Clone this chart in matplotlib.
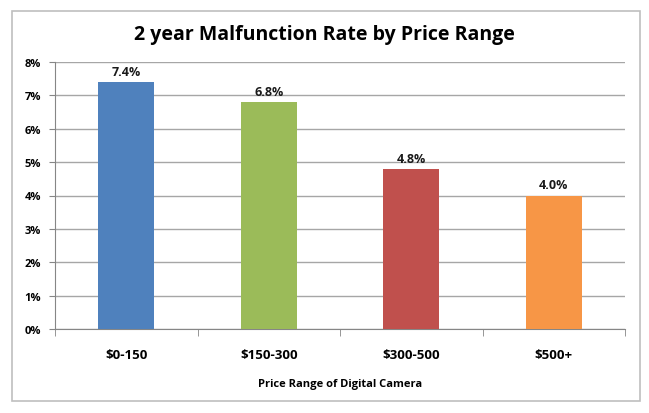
import numpy as np
import matplotlib
matplotlib.use('Agg')
from matplotlib import pyplot as plt
from matplotlib.patches import Rectangle

categories = ['$0-150', '$150-300', '$300-500', '$500+']
rates = [7.4, 6.8, 4.8, 4.0]
bar_colors = ['#4F81BD', '#9BBB59', '#C0504D', '#F79646']
y_ticks = [0, 1, 2, 3, 4, 5, 6, 7, 8]


def plotter():
    plt.rcParams['font.family'] = ['Open Sans', 'DejaVu Sans']
    plt.rcParams['font.weight'] = 'bold'

    fig = plt.figure(figsize=(6.49, 4.14), dpi=100)
    # outer chart border
    fig.patches.append(Rectangle((12 / 649, 12 / 414), 628 / 649, 390 / 414,
                                 transform=fig.transFigure, fill=False,
                                 edgecolor='#BFBFBF', linewidth=1.2))

    ax = fig.add_axes([55 / 649, 1 - 330 / 414, 570 / 649, 267 / 414])
    x = np.arange(len(categories))
    ax.bar(x, rates, width=0.39, color=bar_colors, zorder=3)
    for xi, v in zip(x, rates):
        ax.text(xi, v + 0.12, f'{v:.1f}%', ha='center', va='bottom',
                fontsize=9, fontweight='bold', color='#1a1a1a')

    ax.set_xlim(-0.5, len(categories) - 0.5)
    ax.set_ylim(0, 8)
    ax.set_yticks(y_ticks)
    ax.set_yticklabels([f'{t}%' for t in y_ticks], fontsize=8, fontweight='bold')
    ax.set_xticks(x)
    ax.set_xticklabels(categories, fontsize=9.5, fontweight='bold')
    ax.tick_params(axis='x', length=0, pad=14)
    ax.tick_params(axis='y', length=4, color='#868686', pad=6)
    # category boundary ticks
    ax.set_xticks(np.arange(-0.5, len(categories)), minor=True)
    ax.tick_params(axis='x', which='minor', length=5, color='#868686')

    ax.grid(axis='y', color='#A6A6A6', linewidth=1, zorder=0)
    for s in ['top', 'right']:
        ax.spines[s].set_visible(False)
    for s in ['left', 'bottom']:
        ax.spines[s].set_color('#868686')

    ax.set_xlabel('Price Range of Digital Camera', fontsize=8, fontweight='bold', labelpad=12)
    fig.text(0.5, 1 - 35 / 414, '2 year Malfunction Rate by Price Range', ha='center',
             va='center', fontsize=14, fontweight='bold')

    fig.savefig('out.png', dpi=100)


if __name__ == '__main__':
    plotter()
